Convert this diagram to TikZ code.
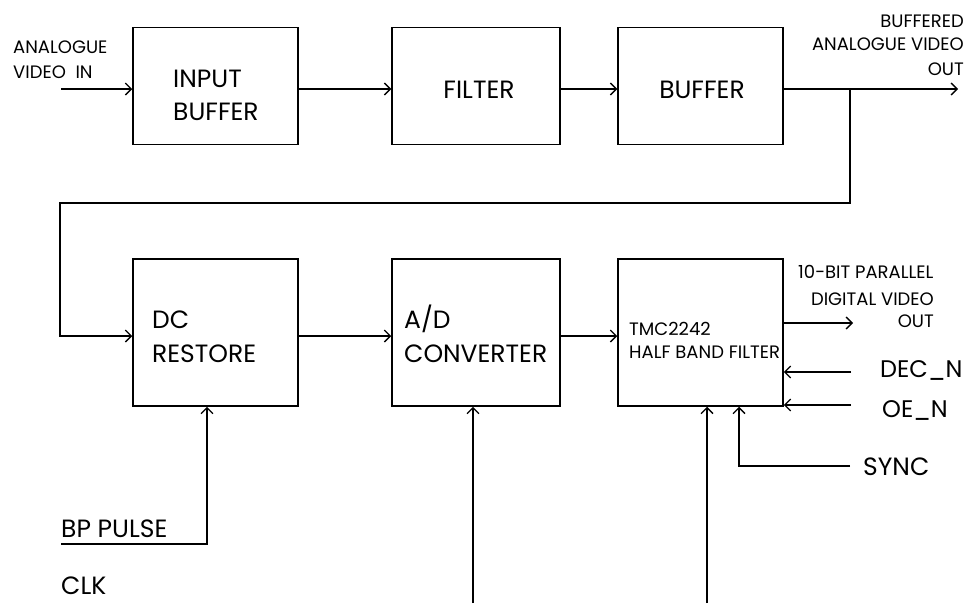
\documentclass[tikz,border=0pt]{standalone}
\usepackage{fontspec}
\setmainfont{Poppins}
\usetikzlibrary{arrows.meta}
\begin{document}
\begin{tikzpicture}[x=1pt,y=-1pt]
\tikzset{
 box/.style={draw, line width=1.5pt, inner sep=0pt, minimum width=165pt},
 toprow/.style={box, minimum height=117pt},
 botrow/.style={box, minimum height=147pt},
 wire/.style={line width=1.3pt},
 arr/.style={wire, -{Straight Barb[length=6pt,width=12pt,line width=1.3pt]}},
 big/.style={inner sep=0pt, font=\fontsize{25}{30}\selectfont},
 small/.style={inner sep=0pt, font=\fontsize{18}{22}\selectfont},
}
\fill[white] (0,0) rectangle (967,603);
\useasboundingbox (0,0) rectangle (967,603);
% blocks
\node[toprow] (inbuf) at (215.5,86) {};
\node[toprow,minimum width=168pt] (filter) at (476,86) {};
\node[toprow] (buffer) at (700.5,86) {};
\node[botrow] (dc) at (215.5,332.5) {};
\node[botrow,minimum width=168pt] (adc) at (476,332.5) {};
\node[botrow] (tmc) at (700.5,332.5) {};
% block texts
\node[big,anchor=base west] (t1) at (173,87) {INPUT};
\node[big,anchor=base west] (t2) at (173,120) {BUFFER};
\node[big,anchor=base] (t3) at (479,98) {FILTER};
\node[big,anchor=base] (t4) at (702,98) {BUFFER};
\node[big,anchor=base west] (t5) at (152,328) {DC};
\node[big,anchor=base west] (t6) at (152,362) {RESTORE};
\node[big,anchor=base west] (t7) at (404,328) {A/D};
\node[big,anchor=base west] (t8) at (404,362) {CONVERTER};
\node[small,anchor=base west] (t9) at (629,335) {TMC2242};
\node[small,anchor=base west] (t10) at (629,358) {HALF BAND FILTER};
% signal labels
\node[small,anchor=base west] (l1) at (13,53) {ANALOGUE};
\node[small,anchor=base west] (l2) at (13,78) {VIDEO\ \ IN};
\node[small,anchor=base east] (l3) at (964,27) {BUFFERED};
\node[small,anchor=base east] (l4) at (964,50) {ANALOGUE VIDEO};
\node[small,anchor=base east] (l5) at (964,75) {OUT};
\node[small,anchor=base west] (l6) at (798,278) {10-BIT PARALLEL};
\node[small,anchor=base east] (l7) at (934,305) {DIGITAL VIDEO};
\node[small,anchor=base east] (l8) at (934,327) {OUT};
\node[big,anchor=base west,font=\fontsize{24}{28}\selectfont] (l9) at (880,377) {DEC\_N};
\node[big,anchor=base west,font=\fontsize{24}{28}\selectfont] (l10) at (882,417) {OE\_N};
\node[big,anchor=base west] (l11) at (863,475) {SYNC};
\node[big,anchor=base west] (l12) at (61,537) {BP PULSE};
\node[big,anchor=base west] (l13) at (61,594) {CLK};
% wires
\coordinate (avin) at (61,89);
\coordinate (bout) at (958,89);
\coordinate (br) at (850,89);
\coordinate (fb1) at (850,203);
\coordinate (fb2) at (60,203);
\coordinate (fb3) at (60,336);
\draw[arr] (avin) -- (avin -| inbuf.west);
\draw[arr] (inbuf.east |- avin) -- (filter.west |- avin);
\draw[arr] (filter.east |- avin) -- (buffer.west |- avin);
\draw[arr] (buffer.east |- avin) -- (bout);
\draw[arr] (br) -- (fb1) -- (fb2) -- (fb3) -- (fb3 -| dc.west);
\draw[arr] (dc.east |- fb3) -- (adc.west |- fb3);
\draw[arr] (adc.east |- fb3) -- (tmc.west |- fb3);
\coordinate (dout) at (853,323);
\draw[arr] (tmc.east |- dout) -- (dout);
\coordinate (dec) at (851,372);
\draw[arr] (dec) -- (dec -| tmc.east);
\coordinate (oe) at (851,405);
\draw[arr] (oe) -- (oe -| tmc.east);
\coordinate (sync) at (850,466);
\coordinate (sc) at (739,466);
\draw[arr] (sync) -- (sc) -- (sc |- tmc.south);
\coordinate (ck1) at (473,603);
\draw[arr] (ck1) -- (ck1 |- adc.south);
\coordinate (ck2) at (707,603);
\draw[arr] (ck2) -- (ck2 |- tmc.south);
\coordinate (bp) at (61,544);
\coordinate (bpc) at (207,544);
\draw[arr] (bp) -- (bpc) -- (bpc |- dc.south);
\end{tikzpicture}
\end{document}
